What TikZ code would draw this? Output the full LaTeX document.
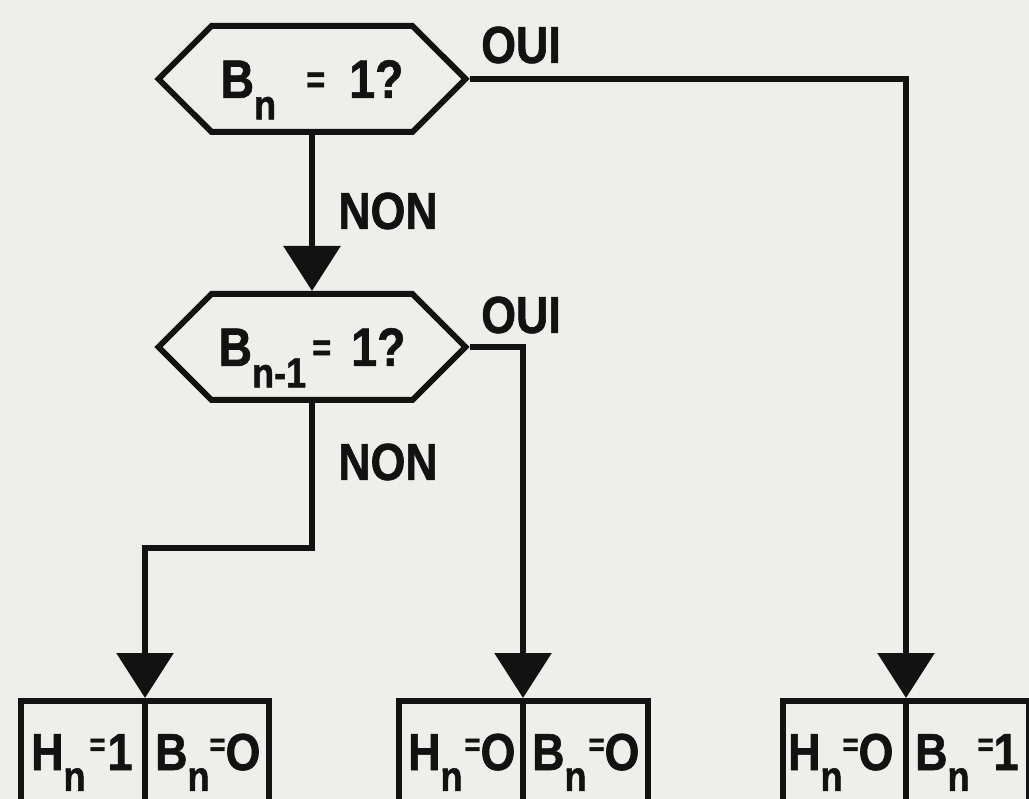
\documentclass[tikz,border=0pt]{standalone}
\usepackage{fontspec}
\setmainfont{Liberation Sans}[FakeStretch=0.86, BoldFeatures={FakeBold=1.2}]
\usetikzlibrary{shapes.symbols,arrows.meta}
\definecolor{paper}{RGB}{238,238,235}
\definecolor{ink}{RGB}{18,18,18}
\newcommand\sbn[1]{\raisebox{-0.4em}[0pt][0pt]{\fontsize{42}{42}\selectfont #1}}
\newcommand\eqs{\raisebox{0.1em}{\fontsize{38}{38}\selectfont =}}
\newcommand\eqr{\raisebox{0.28em}{\fontsize{32}{32}\selectfont =}}
\tikzset{
  hexa/.style={signal, signal to=west and east, signal pointer angle=90,
    draw=ink, line width=6pt, minimum width=307pt, minimum height=106pt,
    inner sep=0pt, text=ink, font=\fontsize{54}{54}\selectfont\bfseries},
  lbl/.style={text=ink, inner sep=0pt, font=\fontsize{52}{52}\selectfont\bfseries},
  outbox/.style={draw=ink, line width=6pt, rectangle, minimum height=220pt, inner sep=0pt, anchor=north},
  btxt/.style={text=ink, inner sep=0pt, anchor=base west, font=\fontsize{52}{52}\selectfont\bfseries},
  arr/.style={draw=ink, line width=6pt, -{Triangle[width=56pt,length=45pt]}},
  conn/.style={draw=ink, line width=6pt}
}
\begin{document}
\begin{tikzpicture}[x=1pt,y=-1pt]
\fill[paper] (0,0) rectangle (1029,799);
\useasboundingbox (0,0) rectangle (1029,799);
\clip (0,0) rectangle (1029,799);
% decisions
\node[hexa] (q1) at (312,79) {B\sbn{n}\hspace{30pt}\eqs\hspace{24pt}1?};
\node[hexa] (q2) at (312,347) {B\sbn{n-1}\hspace{6pt}\eqs\hspace{20pt}1?};
% labels
\node[lbl] (non1) at (388,211) {NON};
\node[lbl] (oui1) at (521,45) {OUI};
\node[lbl] (oui2) at (521,315) {OUI};
\node[lbl] (non2) at (388,462) {NON};
% result boxes
\node[outbox, minimum width=248pt] (r1) at (145,698) {};
\node[outbox, minimum width=249pt] (r2) at (523,698) {};
\node[outbox, minimum width=246pt] (r3) at (906,698) {};
\draw[conn] (r1.north) -- (r1.south);
\draw[conn] (r2.north) -- (r2.south);
\draw[conn] (r3.north) -- (r3.south);
\node[btxt] (r1a) at (31,770) {H\sbn{n}\hspace{4pt}\eqr\hspace{2pt}1};
\node[btxt] (r1b) at (155,770) {B\sbn{n}\eqr O};
\node[btxt] (r2a) at (408,770) {H\sbn{n}\hspace{2pt}\eqr O};
\node[btxt] (r2b) at (532,770) {B\sbn{n}\hspace{2pt}\eqr O};
\node[btxt] (r3a) at (788,770) {H\sbn{n}\eqr O};
\node[btxt] (r3b) at (915,770) {B\sbn{n}\hspace{8pt}\eqr 1};
% connectors
\coordinate (k1) at (312,548);
\draw[arr] (q1.south) -- (q2.north);
\draw[arr] (q1.east) -- (q1.east -| r3.north) -- (r3.north);
\draw[arr] (q2.east) -- (q2.east -| r2.north) -- (r2.north);
\draw[arr] (q2.south) -- (k1) -| (r1.north);
\end{tikzpicture}
\end{document}
